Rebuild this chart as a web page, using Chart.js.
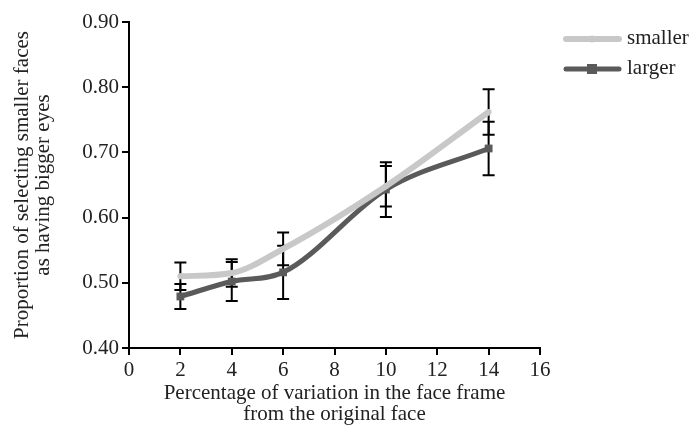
<!DOCTYPE html>
<html>
<head>
<meta charset="utf-8">
<script src="https://cdn.jsdelivr.net/npm/chart.js@4.4.1/dist/chart.umd.min.js"></script>
<style>
  html, body { margin: 0; padding: 0; background: #fff; }
  #wrap { width: 692px; height: 425px; position: relative; }
</style>
</head>
<body>
<div id="wrap"><canvas id="chart" width="692" height="425"></canvas></div>
<script>
const variation = [2, 4, 6, 10, 14];
const smaller = [0.510, 0.515, 0.552, 0.648, 0.762];
const smallerErr = [0.021, 0.021, 0.025, 0.031, 0.035];
const larger = [0.479, 0.502, 0.516, 0.643, 0.706];
const largerErr = [0.019, 0.030, 0.041, 0.042, 0.041];
const xTicks = [0, 2, 4, 6, 8, 10, 12, 14, 16];
const yTicks = [0.4, 0.5, 0.6, 0.7, 0.8, 0.9];

const serif = "'Liberation Serif', 'DejaVu Serif', serif";

const toPoints = vals => vals.map((v, i) => ({ x: variation[i], y: v }));

// error bars drawn under the lines, using the chart scales
const errorBars = {
  id: "errorBars",
  beforeDatasetsDraw(chart) {
    const { ctx, scales } = chart;
    const sets = [[smaller, smallerErr], [larger, largerErr]];
    ctx.save();
    ctx.strokeStyle = "#000";
    ctx.lineWidth = 2;
    sets.forEach(([vals, errs]) => {
      vals.forEach((v, i) => {
        const x = scales.x.getPixelForValue(variation[i]);
        const top = scales.y.getPixelForValue(v + errs[i]);
        const bot = scales.y.getPixelForValue(v - errs[i]);
        ctx.beginPath();
        ctx.moveTo(x, top); ctx.lineTo(x, bot);
        ctx.moveTo(x - 6, top); ctx.lineTo(x + 6, top);
        ctx.moveTo(x - 6, bot); ctx.lineTo(x + 6, bot);
        ctx.stroke();
      });
    });
    ctx.restore();
  }
};

// legend: thick line with marker, text on right
const sideLegend = {
  id: "sideLegend",
  afterDraw(chart) {
    const { ctx } = chart;
    ctx.save();
    chart.data.datasets.forEach((ds, i) => {
      const y = 39 + i * 30;
      ctx.strokeStyle = ds.borderColor;
      ctx.lineWidth = ds.borderWidth;
      ctx.lineCap = "round";
      ctx.beginPath();
      ctx.moveTo(566, y); ctx.lineTo(619, y);
      ctx.stroke();
      ctx.fillStyle = ds.pointBackgroundColor;
      if (ds.pointStyle === "rect") {
        ctx.fillRect(587, y - 5, 10, 10);
      } else {
        ctx.beginPath();
        ctx.arc(592, y, 3.5, 0, Math.PI * 2);
        ctx.fill();
      }
      ctx.fillStyle = "#222";
      ctx.font = "21px " + serif;
      ctx.textBaseline = "middle";
      ctx.fillText(ds.label, 627, y - 1);
    });
    ctx.restore();
  }
};

new Chart(document.getElementById("chart"), {
  type: "line",
  data: {
    datasets: [
      {
        label: "smaller",
        data: toPoints(smaller),
        borderColor: "#c8c8c8",
        backgroundColor: "#c8c8c8",
        pointBackgroundColor: "#c8c8c8",
        pointBorderWidth: 0,
        pointRadius: 3,
        pointStyle: "circle",
        borderWidth: 6,
        cubicInterpolationMode: "monotone"
      },
      {
        label: "larger",
        data: toPoints(larger),
        borderColor: "#5a5a5a",
        backgroundColor: "#5a5a5a",
        pointBackgroundColor: "#5a5a5a",
        pointBorderWidth: 0,
        pointRadius: 5.5,
        pointStyle: "rect",
        borderWidth: 5,
        cubicInterpolationMode: "monotone"
      }
    ]
  },
  options: {
    responsive: false,
    animation: false,
    layout: { padding: { top: 22, right: 152, left: 0, bottom: 0 } },
    plugins: { legend: { display: false }, tooltip: { enabled: false } },
    scales: {
      x: {
        type: "linear",
        min: 0,
        max: 16,
        afterBuildTicks: axis => { axis.ticks = xTicks.map(v => ({ value: v })); },
        afterFit: axis => { axis.height = 77; },
        border: { color: "#000", width: 2 },
        grid: { drawOnChartArea: false, color: "#000", lineWidth: 2, tickLength: 7 },
        ticks: { color: "#222", font: { family: serif, size: 21 }, padding: 3 },
        title: {
          display: true,
          text: ["Percentage of variation in the face frame", "from the original face"],
          color: "#222",
          font: { family: serif, size: 21, lineHeight: 1.0 },
          padding: { top: 0, bottom: 0 }
        }
      },
      y: {
        min: 0.4,
        max: 0.9,
        afterBuildTicks: axis => { axis.ticks = yTicks.map(v => ({ value: v })); },
        afterFit: axis => { axis.width = 129; },
        border: { color: "#000", width: 2 },
        grid: { drawOnChartArea: false, color: "#000", lineWidth: 2, tickLength: 7 },
        ticks: { color: "#222", font: { family: serif, size: 21 }, padding: 3, callback: v => v.toFixed(2) },
        title: {
          display: true,
          text: ["Proportion of selecting smaller faces", "as having bigger eyes"],
          color: "#222",
          font: { family: serif, size: 21, lineHeight: 1.0 },
          padding: { top: 12, bottom: 0 }
        }
      }
    }
  },
  plugins: [errorBars, sideLegend]
});
</script>
</body>
</html>
